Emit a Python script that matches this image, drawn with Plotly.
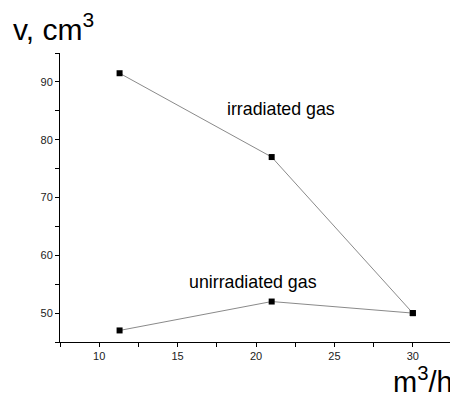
import plotly.graph_objects as go

flow = [11.3, 21, 30]
irradiated = [91.5, 77, 50]
unirradiated = [47, 52, 50]

FONT = "Arial, Liberation Sans, sans-serif"

# the page body has an 8px default margin, so the figure is drawn 8px smaller
fig = go.Figure()
for ys in (irradiated, unirradiated):
    fig.add_trace(go.Scatter(
        x=flow, y=ys, mode="lines+markers",
        line=dict(color="#8a8a8a", width=1),
        marker=dict(symbol="square", size=6, color="black"),
        showlegend=False,
    ))

fig.update_layout(
    width=450, height=388,
    margin=dict(l=52, r=6, t=45, b=54, autoexpand=False),
    paper_bgcolor="white", plot_bgcolor="white",
    font=dict(family=FONT, color="black"),
    xaxis=dict(range=[7.5, 32.5], tick0=10, dtick=5, showgrid=False, zeroline=False,
               showline=True, linecolor="black", linewidth=1,
               ticks="outside", ticklen=4, tickcolor="black",
               tickfont=dict(size=11, color="#222"),
               minor=dict(dtick=2.5, tick0=7.5, ticks="outside", ticklen=4, tickcolor="black")),
    yaxis=dict(range=[45, 95], tick0=50, dtick=10, showgrid=False, zeroline=False,
               showline=True, linecolor="black", linewidth=1,
               ticks="outside", ticklen=4, tickcolor="black",
               tickfont=dict(size=11, color="#222"),
               minor=dict(dtick=5, tick0=45, ticks="outside", ticklen=4, tickcolor="black")),
    annotations=[
        dict(text="irradiated gas", x=21.6, y=85.3, xref="x", yref="y", showarrow=False,
             font=dict(size=17.8, family=FONT, color="black")),
        dict(text="unirradiated gas", x=19.84, y=55.4, xref="x", yref="y", showarrow=False,
             font=dict(size=17.8, family=FONT, color="black")),
        dict(text="v, cm<sup>3</sup>", x=(11 - 60) / 392, y=1.09, xref="paper", yref="paper",
             xanchor="left", yanchor="middle", showarrow=False,
             font=dict(size=30, family=FONT, color="black")),
        dict(text="m<sup>3</sup>/h", x=(455 - 60) / 392, y=-0.132, xref="paper", yref="paper",
             xanchor="right", yanchor="middle", showarrow=False,
             font=dict(size=29, family=FONT, color="black")),
    ],
)

fig.write_html("out.html")
